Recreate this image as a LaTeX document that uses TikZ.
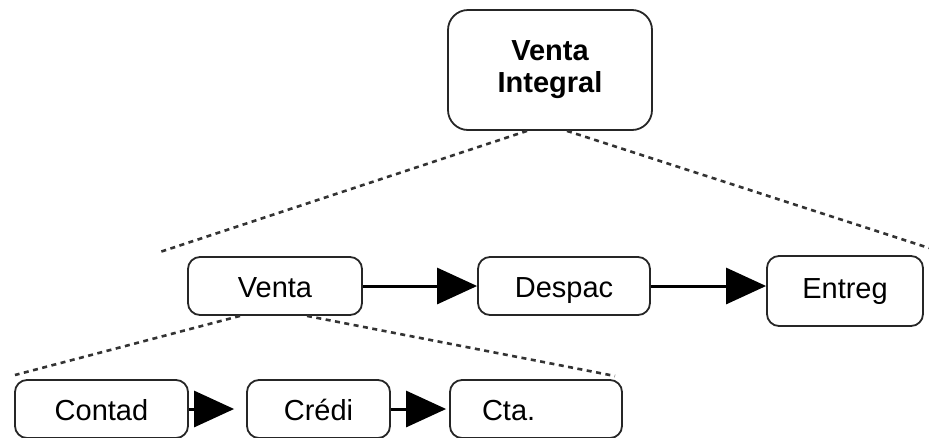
\documentclass[tikz,border=0pt]{standalone}
\usepackage{fontspec}
\setmainfont{Liberation Sans}
\usetikzlibrary{arrows.meta}

\tikzset{
  boxbase/.style={draw=black!85,line width=1.8pt,inner sep=0pt,font=\fontsize{29}{32}\selectfont},
  proc/.style={boxbase,rounded corners=12pt,minimum height=58pt,text height=25pt,text depth=3pt},
  topbox/.style={boxbase,rounded corners=20pt,align=center,font=\fontsize{29}{32}\selectfont\bfseries},
  flow/.style={line width=3pt,-{Triangle[length=40pt,width=36pt]}},
  branch/.style={black!80,line width=2.6pt,dash pattern=on 5pt off 4.5pt}
}

\begin{document}
\begin{tikzpicture}[x=1pt,y=-1pt]
  \useasboundingbox (0,0) rectangle (929,437);
  \node[topbox,minimum width=204pt,minimum height=120pt] (integral) at (550,70) {Venta\\Integral};
  \node[proc,minimum width=174pt] (venta) at (275,286) {Venta};
  \node[proc,minimum width=172pt] (despac) at (564,286) {Despac};
  \node[proc,minimum width=156pt,minimum height=70pt,text height=21pt,text depth=7pt] (entreg) at (845,291) {Entreg};
  \node[proc,minimum width=173pt] (contad) at (101.5,409) {Contad};
  \node[proc,minimum width=143pt] (credi) at (318.5,409) {Crédi};
  \node[proc,inner xsep=32pt,text width=108pt,align=left] (cta) at (536,409) {Cta.};
  % free ends of the dotted branches
  \coordinate (il) at (160,252);
  \coordinate (ir) at (929,248);
  \coordinate (vl) at (15,375);
  \coordinate (vr) at (615,376);
  \draw[branch] ([xshift=-23pt]integral.south) -- (il);
  \draw[branch] ([xshift=17pt]integral.south) -- (ir);
  \draw[branch] ([xshift=-35pt]venta.south) -- (vl);
  \draw[branch] ([xshift=32pt]venta.south) -- (vr);
  % flows
  \draw[flow] (venta) -- (despac);
  \draw[flow] (despac.east) -- (entreg.west |- despac.east);
  \draw[flow,shorten >=12pt] (contad) -- (credi);
  \draw[flow,shorten >=3pt] (credi) -- (cta);
\end{tikzpicture}
\end{document}
